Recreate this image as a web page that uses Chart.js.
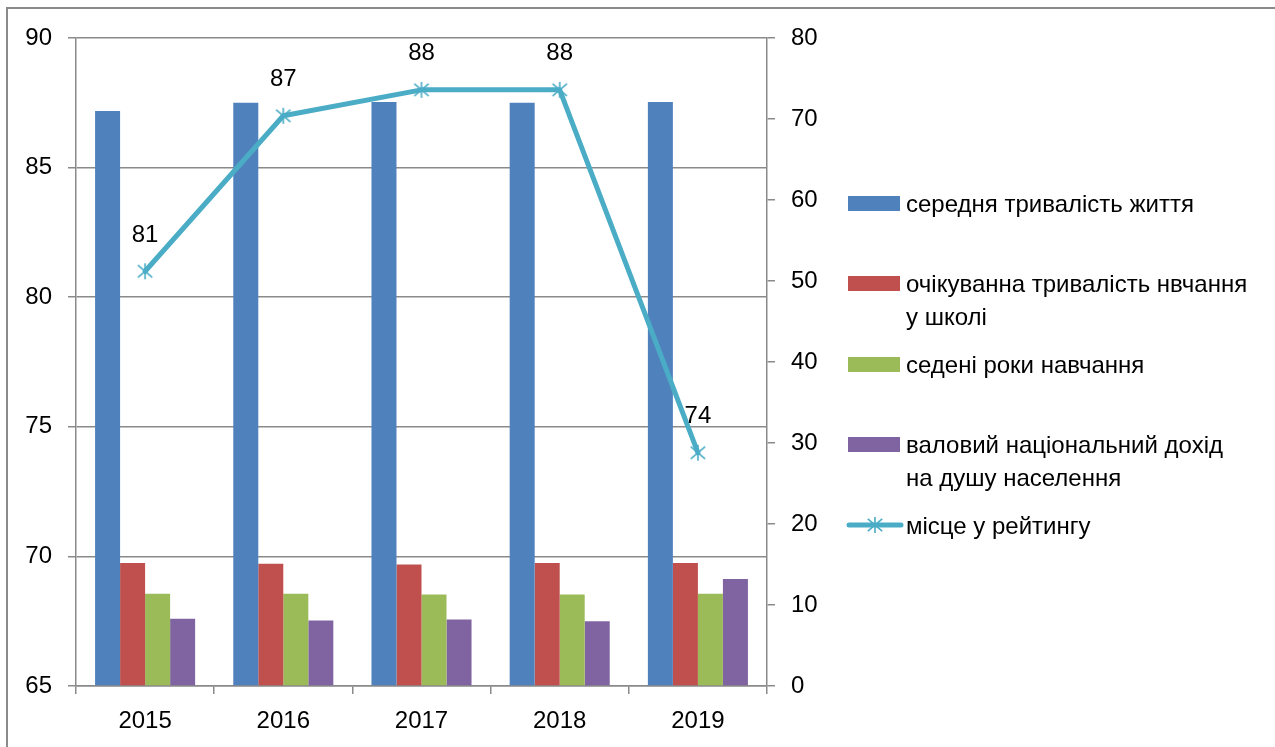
<!DOCTYPE html>
<html>
<head>
<meta charset="utf-8">
<script src="https://cdn.jsdelivr.net/npm/chart.js@4.4.1/dist/chart.umd.min.js"></script>
<style>
  html, body { margin: 0; padding: 0; background: #fff; overflow: hidden; }
  #wrap { position: relative; width: 1275px; height: 747px; }
  #frame { position: absolute; left: 6px; top: 7px; width: 1300px; height: 800px; border: 2px solid #8a8a8a; box-sizing: border-box; }
  canvas#c { position: absolute; left: 0; top: 0; }
  #legend { position: absolute; left: 0; top: 0; width: 1275px; height: 747px; pointer-events: none;
            font-family: "Liberation Sans", Arial, sans-serif; font-size: 24px; color: #000; }
  .item { position: absolute; left: 846px; }
  .sw { position: absolute; left: 2px; width: 52px; height: 15px; }
  .txt { position: absolute; left: 60px; width: 345px; line-height: 33px; white-space: normal; }
</style>
</head>
<body>
<div id="wrap">
  <div id="frame"></div>
  <canvas id="c" width="1275" height="747"></canvas>
  <div id="legend"></div>
</div>
<script>
// ---- data ----
const categories = ['2015', '2016', '2017', '2018', '2019'];
const lifeExpectancy = [71.0, 72.0, 72.1, 72.0, 72.1];
const expectedSchooling = [15.2, 15.1, 15.0, 15.2, 15.2];
const meanSchooling = [11.4, 11.4, 11.3, 11.3, 11.4];
const gniPerCapita = [8.3, 8.1, 8.2, 8.0, 13.2];
const ranking = [81, 87, 88, 88, 74];
const seriesNames = [
  'середня тривалість життя',
  'очікуванна тривалість нвчання у школі',
  'седені роки навчання',
  'валовий національний дохід на душу населення',
  'місце у рейтингу'
];
const leftAxisRange = [65, 90, 5];
const rightAxisRange = [0, 80, 10];

const colors = ['#4F81BD', '#C0504D', '#9BBB59', '#8064A2', '#4BACC6'];
const FONT = '"Liberation Sans", Arial, sans-serif';
const FSIZE = 24;
const GRID = '#8a8a8a';

// asterisk marker
function makeMarker(size, color) {
  const cv = document.createElement('canvas');
  cv.width = size; cv.height = size;
  const g = cv.getContext('2d');
  g.strokeStyle = color; g.lineWidth = 1.6;
  const c = size / 2, a = size * 0.4;
  g.beginPath();
  g.moveTo(c - a, c - a * 0.85); g.lineTo(c + a, c + a * 0.85);
  g.moveTo(c + a, c - a * 0.85); g.lineTo(c - a, c + a * 0.85);
  g.moveTo(c, c - a * 1.1); g.lineTo(c, c + a * 1.1);
  g.stroke();
  return cv;
}
const marker = makeMarker(18, colors[4]);

const labelPlugin = {
  id: 'pointLabels',
  afterDatasetsDraw(chart) {
    const meta = chart.getDatasetMeta(4);
    const ctx = chart.ctx;
    ctx.save();
    ctx.font = FSIZE + 'px ' + FONT;
    ctx.fillStyle = '#000';
    ctx.textAlign = 'center';
    ctx.textBaseline = 'middle';
    meta.data.forEach((pt, i) => {
      ctx.fillText(String(ranking[i]), pt.x, pt.y - 36);
    });
    ctx.restore();
  }
};

const barDefaults = { type: 'bar', yAxisID: 'yR', categoryPercentage: 0.724, barPercentage: 1, order: 2, borderWidth: 0 };

new Chart(document.getElementById('c'), {
  data: {
    labels: categories,
    datasets: [
      Object.assign({ label: seriesNames[0], data: lifeExpectancy, backgroundColor: colors[0] }, barDefaults),
      Object.assign({ label: seriesNames[1], data: expectedSchooling, backgroundColor: colors[1] }, barDefaults),
      Object.assign({ label: seriesNames[2], data: meanSchooling, backgroundColor: colors[2] }, barDefaults),
      Object.assign({ label: seriesNames[3], data: gniPerCapita, backgroundColor: colors[3] }, barDefaults),
      {
        type: 'line', label: seriesNames[4], data: ranking, yAxisID: 'yL', order: 0,
        borderColor: colors[4], borderWidth: 5, tension: 0, fill: false,
        pointStyle: marker, pointRadius: 9, pointHoverRadius: 9,
        borderCapStyle: 'round', borderJoinStyle: 'round'
      }
    ]
  },
  options: {
    responsive: false,
    animation: false,
    devicePixelRatio: 1,
    layout: { padding: { left: 0, right: 0, top: 38, bottom: 0 } },
    plugins: { legend: { display: false }, tooltip: { enabled: false } },
    scales: {
      x: {
        offset: true,
        grid: { offset: true, drawOnChartArea: false, drawTicks: true, tickLength: 8, color: GRID, lineWidth: 1.5 },
        border: { color: GRID, width: 1.5 },
        ticks: { color: '#000', font: { family: FONT, size: FSIZE }, padding: 13, maxRotation: 0 },
        afterFit(s) { s.height = 61; }
      },
      yL: {
        position: 'left',
        min: leftAxisRange[0], max: leftAxisRange[1],
        grid: { color: GRID, lineWidth: 1.5, tickLength: 8 },
        border: { color: GRID, width: 1.5 },
        ticks: { stepSize: leftAxisRange[2], color: '#000', font: { family: FONT, size: FSIZE }, padding: 16 },
        afterFit(s) { s.width = 76; }
      },
      yR: {
        position: 'right',
        min: rightAxisRange[0], max: rightAxisRange[1],
        grid: { drawOnChartArea: false, color: GRID, lineWidth: 1.5, tickLength: 8 },
        border: { color: GRID, width: 1.5 },
        ticks: { stepSize: rightAxisRange[2], color: '#000', font: { family: FONT, size: FSIZE }, padding: 16 },
        afterFit(s) { s.width = 508; }
      }
    }
  },
  plugins: [labelPlugin]
});

// ---- legend (HTML) ----
const legend = document.getElementById('legend');
const rowCenters = [203.5, 283.5, 364, 444.5, 525];
seriesNames.forEach((name, i) => {
  const item = document.createElement('div');
  item.className = 'item';
  item.style.top = (rowCenters[i] - 16.5) + 'px';
  if (i < 4) {
    const sw = document.createElement('div');
    sw.className = 'sw';
    sw.style.top = '9px';
    sw.style.background = colors[i];
    item.appendChild(sw);
  } else {
    const cv = document.createElement('canvas');
    cv.width = 58; cv.height = 20;
    cv.style.position = 'absolute'; cv.style.left = '0px'; cv.style.top = '6px';
    const g = cv.getContext('2d');
    g.strokeStyle = colors[4]; g.lineWidth = 5; g.lineCap = 'round';
    g.beginPath(); g.moveTo(3, 10); g.lineTo(55, 10); g.stroke();
    g.drawImage(marker, 29 - 9, 10 - 9);
    item.appendChild(cv);
  }
  const t = document.createElement('div');
  t.className = 'txt';
  t.textContent = name;
  item.appendChild(t);
  legend.appendChild(item);
});
</script>
</body>
</html>
